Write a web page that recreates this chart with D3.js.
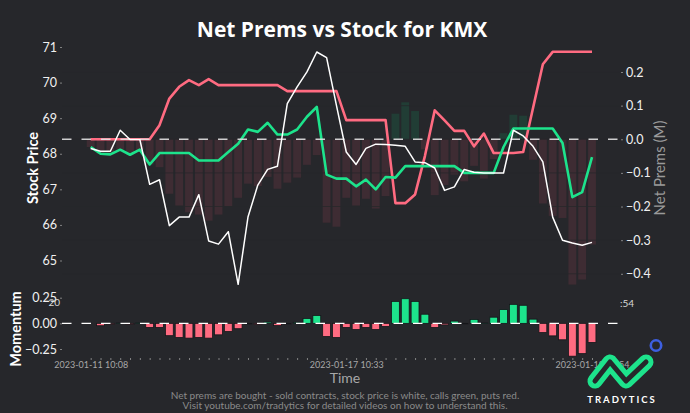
<!DOCTYPE html>
<html><head><meta charset="utf-8">
<script src="https://cdn.jsdelivr.net/npm/d3@7"></script>
<style>html,body{margin:0;padding:0;background:#26272b;} svg{display:block;}</style>
</head><body>
<svg id="c" width="690" height="413"></svg>
<script>
// ---- data ----
const stockPrice = [68.15,68.07,68.07,68.66,68.40,68.40,67.14,67.27,65.98,66.22,
  66.22,66.85,65.55,65.46,65.81,64.33,66.22,67.12,67.56,67.65,
  69.41,69.88,70.30,70.86,70.70,69.36,68.05,67.70,68.15,68.27,
  68.26,68.24,68.21,67.77,67.75,67.60,66.97,67.07,67.56,67.48,
  67.46,67.46,67.46,68.66,68.50,68.21,67.77,66.22,65.57,65.49,
  65.43,65.51];
const callPrems = [-0.023,-0.043,-0.045,-0.031,-0.046,-0.031,-0.075,-0.041,-0.041,-0.041,
  -0.041,-0.063,-0.063,-0.063,-0.038,-0.013,0.029,0.022,0.049,0.014,
  0.014,0.029,0.067,0.096,-0.105,-0.117,-0.117,-0.140,-0.120,-0.149,
  -0.112,-0.114,-0.080,-0.080,-0.080,-0.080,-0.080,-0.080,-0.100,-0.100,
  -0.100,-0.100,-0.023,0.032,0.032,0.032,0.032,0.032,-0.011,-0.172,
  -0.157,-0.053];
const putPrems = [0,0,0,0,0,0,0,0.042,0.121,0.156,
  0.176,0.161,0.179,0.161,0.161,0.161,0.161,0.161,0.161,0.161,
  0.143,0.143,0.143,0.143,0.143,0.143,0.057,0.057,0.057,0.057,
  0.057,-0.190,-0.190,-0.164,-0.050,0.086,0.056,0.025,0.025,-0.021,
  0.017,-0.041,-0.041,-0.041,-0.038,0.093,0.223,0.260,0.260,0.260,
  0.260,0.260];
const netPrems = [-0.023,-0.043,-0.045,-0.031,-0.046,-0.031,-0.075,-0.083,-0.162,-0.197,
  -0.217,-0.224,-0.242,-0.224,-0.199,-0.174,-0.132,-0.139,-0.112,-0.147,
  -0.129,-0.114,-0.076,-0.047,-0.248,-0.260,-0.174,-0.197,-0.177,-0.206,
  -0.169,0.076,0.110,0.084,-0.030,-0.166,-0.136,-0.105,-0.125,-0.079,
  -0.117,-0.059,0.018,0.073,0.070,-0.061,-0.191,-0.228,-0.234,-0.432,
  -0.417,-0.313];
const momentum = [0,-0.023,-0.010,0.003,-0.010,0.004,-0.040,-0.040,-0.120,-0.138,
  -0.144,-0.138,-0.144,-0.112,-0.080,-0.052,-0.005,-0.012,0.012,-0.022,
  -0.005,0.010,0.048,0.077,-0.128,-0.138,-0.040,-0.060,-0.040,-0.060,
  -0.030,0.214,0.240,0.214,0.089,-0.040,-0.015,0.022,-0.005,0.038,
  0.003,0.060,0.134,0.185,0.176,0.041,-0.090,-0.122,-0.160,-0.320,
  -0.295,-0.186];
const stockTicks = [65,66,67,68,69,70,71];
const premTicks = [0.2,0.1,0,-0.1,-0.2,-0.3,-0.4];
const momTicks = [0.25,0,-0.25];
const xTickIdx = [0,26,51];
const xTickLabels = ["2023-01-11 10:08","2023-01-17 10:33","2023-01-18 15:54"];

// ---- drawing ----
const BG = "#26272b";
const RED = "#ff6b81", GREEN = "#1de38c";
const FONT = "Lato, 'Noto Sans', sans-serif";
const svg = d3.select("#c").style("font-family", FONT);
svg.append("rect").attr("width",690).attr("height",413).attr("fill",BG);
const n = stockPrice.length;
const idx = d3.range(n);

const x = d3.scaleLinear().domain([-2.92, 53.95]).range([62, 621]);
const yS = d3.scaleLinear().domain([65,71]).range([260.5,47]);
const yP = d3.scaleLinear().domain([-0.4,0.2]).range([273.8,72]);
const yM = d3.scaleLinear().domain([-0.25,0.25]).range([349,297.7]);
const bw = x(0.8)-x(0);

// net prems bars
const main = svg.append("g");
main.selectAll("rect.net").data(idx).join("rect")
  .attr("x", i => x(i)-bw/2)
  .attr("width", bw)
  .attr("y", i => Math.min(yP(netPrems[i]), yP(0)))
  .attr("height", i => Math.abs(yP(netPrems[i])-yP(0)))
  .attr("fill", i => netPrems[i] >= 0 ? "#213d35" : "#3e2c33");
// grid lines in background colour over bars
main.selectAll("line.grid").data(premTicks).join("line")
  .attr("x1",62).attr("x2",621)
  .attr("y1",d=>yP(d)).attr("y2",d=>yP(d))
  .attr("stroke",BG).attr("stroke-width",0.8).attr("opacity",0.9);

const lineP = d3.line().x((d,i)=>x(i)).y(d=>yP(d));
main.append("path").datum(putPrems).attr("d",lineP)
  .attr("fill","none").attr("stroke",RED).attr("stroke-width",2.6).attr("stroke-linejoin","round");
main.append("path").datum(callPrems).attr("d",lineP)
  .attr("fill","none").attr("stroke",GREEN).attr("stroke-width",2.6).attr("stroke-linejoin","round");
main.append("line").attr("x1",62).attr("x2",621).attr("y1",yP(0)).attr("y2",yP(0))
  .attr("stroke","rgba(225,225,225,0.9)").attr("stroke-width",1.6).attr("stroke-dasharray","9.5,10");
const lineS = d3.line().x((d,i)=>x(i)).y(d=>yS(d));
main.append("path").datum(stockPrice).attr("d",lineS)
  .attr("fill","none").attr("stroke","#ffffff").attr("stroke-width",1.5).attr("stroke-linejoin","round");

// axes
function styleAxis(g, color, size){
  g.select(".domain").remove();
  g.selectAll(".tick line").attr("stroke","#999").attr("stroke-width",0.8);
  g.selectAll(".tick text").attr("fill",color).style("font-size",size+"px").style("font-family",FONT);
}
const fmt0 = d3.format("d"), fmt1 = d3.format(".1f"), fmt2 = d3.format(".2f");
svg.append("g").attr("transform","translate(62,0)")
  .call(d3.axisLeft(yS).tickValues(stockTicks).tickSize(2).tickPadding(3).tickFormat(fmt0))
  .call(g=>styleAxis(g,"#f0f0f0",12.5));
svg.append("g").attr("transform","translate(621,0)")
  .call(d3.axisRight(yP).tickValues(premTicks).tickSize(2).tickPadding(3).tickFormat(fmt1))
  .call(g=>styleAxis(g,"#f0f0f0",12.5));

// momentum panel
const mom = svg.append("g");
mom.selectAll("rect.mom").data(idx).join("rect")
  .attr("x", i => x(i)-bw/2)
  .attr("width", bw)
  .attr("y", i => Math.min(yM(momentum[i]), yM(0)))
  .attr("height", i => Math.abs(yM(momentum[i])-yM(0)))
  .attr("fill", i => momentum[i] >= 0 ? GREEN : RED)
  .attr("stroke","#15161a").attr("stroke-width",0.8);
mom.append("line").attr("x1",62).attr("x2",621).attr("y1",yM(0)).attr("y2",yM(0))
  .attr("stroke","#ffffff").attr("stroke-width",1.4).attr("stroke-dasharray","9.5,10");
svg.append("g").attr("transform","translate(62,0)")
  .call(d3.axisLeft(yM).tickValues(momTicks).tickSize(2).tickPadding(3).tickFormat(fmt2))
  .call(g=>styleAxis(g,"#f0f0f0",12.5));
svg.append("g").attr("transform","translate(0,358)")
  .call(d3.axisBottom(x).tickValues(idx).tickSize(2).tickPadding(2)
    .tickFormat(i => { const k = xTickIdx.indexOf(i); return k>=0 ? xTickLabels[k] : ""; }))
  .call(g=>styleAxis(g,"#a8a8a8",9));

// partly hidden main-axis label fragments (as in the reference)
svg.append("text").attr("x",60).attr("y",305.5).attr("text-anchor","end")
  .attr("fill","#d8d8d8").style("font-size","10px").text("20");
svg.append("text").attr("x",620).attr("y",306.5).attr("text-anchor","start")
  .attr("fill","#d8d8d8").style("font-size","10px").text(":54");

// titles & labels
svg.append("text").attr("x",342).attr("y",37).attr("text-anchor","middle")
  .attr("fill","#ffffff").style("font-size","21px").style("font-weight","bold")
  .style("font-family","'Open Sans', Lato, sans-serif")
  .text("Net Prems vs Stock for KMX");
svg.append("text").attr("transform","translate(38,168) rotate(-90)").attr("text-anchor","middle")
  .attr("fill","#ffffff").style("font-size","14.5px").style("font-weight","bold").text("Stock Price");
svg.append("text").attr("transform","translate(665,168) rotate(-90)").attr("text-anchor","middle")
  .attr("fill","#9a9a9a").style("font-size","15px").text("Net Prems (M)");
svg.append("text").attr("transform","translate(21,329) rotate(-90)").attr("text-anchor","middle")
  .attr("fill","#ffffff").style("font-size","14.5px").style("font-weight","bold").text("Momentum");
svg.append("text").attr("x",345).attr("y",383).attr("text-anchor","middle")
  .attr("fill","#a8a8a8").style("font-size","14px").text("Time");
svg.append("text").attr("x",345).attr("y",398.5).attr("text-anchor","middle")
  .attr("fill","#8a8a8a").style("font-size","10px")
  .text("Net prems are bought - sold contracts, stock price is white, calls green, puts red.");
svg.append("text").attr("x",345).attr("y",409).attr("text-anchor","middle")
  .attr("fill","#8a8a8a").style("font-size","10px")
  .text("Visit youtube.com/tradytics for detailed videos on how to understand this.");

// logo
const logo = svg.append("g");
const zig = "M 595,381 L 610,362 L 626,381 L 646,362";
logo.append("path").attr("d",zig)
  .attr("fill","none").attr("stroke",GREEN).attr("stroke-width",15).attr("stroke-linecap","round").attr("stroke-linejoin","round");
logo.append("path").attr("d",zig)
  .attr("fill","none").attr("stroke",BG).attr("stroke-width",5).attr("stroke-linecap","round").attr("stroke-linejoin","round");
logo.append("circle").attr("cx",656).attr("cy",345.5).attr("r",5.2)
  .attr("fill","none").attr("stroke","#3d5fe0").attr("stroke-width",2.6);
logo.append("text").attr("x",622).attr("y",402.5).attr("text-anchor","middle")
  .attr("fill","#ffffff").style("font-size","9.5px").style("font-weight","bold")
  .style("letter-spacing","2px").text("TRADYTICS");
</script>
</body></html>
